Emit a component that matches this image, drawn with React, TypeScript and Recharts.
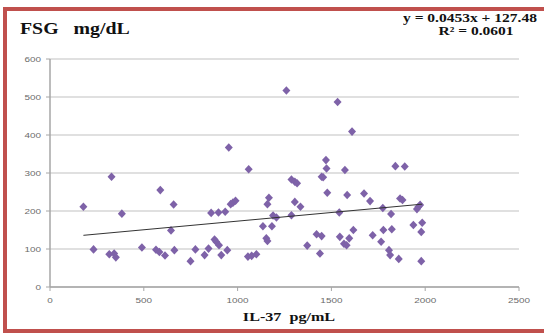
import { ScatterChart, Scatter, XAxis, YAxis, CartesianGrid } from 'recharts'

// IL-37 (pg/mL) vs FSG (mg/dL)
const il37 = [
  178, 232, 316, 342, 351, 328, 383, 490, 565, 583, 613, 588, 645, 659, 663,
  749, 775, 824, 845, 859, 877, 886, 901, 898, 913, 934, 945, 953, 963, 975,
  989, 1055, 1075, 1100, 1059, 1135, 1183, 1153, 1159, 1159, 1167, 1189, 1207, 1260,
  1287, 1305, 1317, 1287, 1305, 1335, 1371, 1421, 1448, 1439, 1448, 1456, 1471, 1474,
  1478, 1533, 1542, 1545, 1567, 1581, 1572, 1584, 1595, 1610, 1617, 1674, 1706, 1720,
  1765, 1777, 1774, 1807, 1813, 1818, 1822, 1841, 1859, 1866, 1879, 1891, 1937, 1956,
  1964, 1973, 1979, 1984, 1979,
]
const fsg = [
  211, 99, 86, 88, 78, 290, 193, 104, 98, 92, 83, 255, 149, 217, 97,
  68, 99, 84, 101, 195, 125, 119, 110, 196, 84, 198, 97, 367, 218, 222,
  227, 80, 82, 86, 310, 160, 160, 128, 121, 218, 235, 188, 183, 517,
  283, 277, 273, 189, 224, 211, 109, 139, 134, 88, 290, 289, 334, 312,
  248, 487, 196, 132, 114, 110, 308, 242, 128, 409, 150, 246, 226, 136,
  119, 150, 208, 97, 84, 192, 152, 318, 74, 233, 229, 317, 163, 205,
  211, 216, 145, 169, 68,
]

// linear trendline ends (y = 0.0453x + 127.48)
const trendX = [178, 1984]
const trendY = [136, 218]

const xTicks = [0, 500, 1000, 1500, 2000, 2500]
const yTicks = [0, 100, 200, 300, 400, 500, 600]

const PURPLE = '#7e62a8'
const SERIF = '"Liberation Serif", "Times New Roman", serif'
const STRETCH = 1.24

const points = il37.map((x, i) => ({ x, y: fsg[i] }))
const trend = trendX.map((x, i) => ({ x, y: trendY[i] }))

const Diamond = (p: any) => {
  const { cx, cy } = p
  if (cx == null || cy == null) return <g />
  const r = 4
  return <path d={`M${cx},${cy - r - 0.3}L${cx + r},${cy}L${cx},${cy + r + 0.3}L${cx - r},${cy}Z`} fill={PURPLE} />
}

const XTick = (p: any) => (
  <text transform={`translate(${p.x},${p.y}) scale(${STRETCH},1)`} textAnchor="middle" dy="0.71em"
    fontSize={8} fill="#6b6b6b" fontFamily='"Liberation Sans", Arial, sans-serif'>
    {p.payload.value}
  </text>
)

const YTick = (p: any) => (
  <text transform={`translate(${p.x},${p.y}) scale(${STRETCH},1)`} textAnchor="end" dy="0.35em"
    fontSize={8} fill="#6b6b6b" fontFamily='"Liberation Sans", Arial, sans-serif'>
    {p.payload.value}
  </text>
)

const serifText = (extra: any) => ({
  position: 'absolute' as const,
  fontFamily: SERIF,
  fontWeight: 'bold',
  color: '#111',
  whiteSpace: 'pre' as const,
  lineHeight: 1,
  ...extra,
})

export default function App() {
  return (
    <div style={{ position: 'absolute', left: 0, top: 0, width: 544, height: 333, background: '#fff' }}>
      <div style={{
        position: 'absolute', left: 3, top: 7, width: 541, height: 326, boxSizing: 'border-box',
        borderTop: '4px solid #c0504d', borderLeft: '4px solid #c0504d', borderBottom: '4px solid #c0504d',
      }} />
      <ScatterChart width={544} height={333} margin={{ top: 59, right: 25, bottom: 26, left: 20 }}
        style={{ position: 'absolute', left: 0, top: 0 }}>
        <CartesianGrid vertical={false} stroke="#d6d6d6" strokeWidth={1.6} />
        <XAxis type="number" dataKey="x" domain={[0, 2500]} ticks={xTicks} height={20}
          axisLine={{ stroke: '#a6a6a6', strokeWidth: 1.5 }} tickLine={{ stroke: '#a6a6a6' }}
          tickSize={4} tickMargin={6} tick={(p: any) => <XTick {...p} />} />
        <YAxis type="number" dataKey="y" domain={[0, 600]} ticks={yTicks} width={30}
          axisLine={{ stroke: '#a6a6a6', strokeWidth: 1.5 }} tickLine={{ stroke: '#a6a6a6' }}
          tickSize={4} tickMargin={5} tick={(p: any) => <YTick {...p} />} />
        <Scatter data={points} shape={Diamond} isAnimationActive={false} />
        <Scatter data={trend} line={{ stroke: '#333', strokeWidth: 1 }} shape={() => <g />}
          isAnimationActive={false} />
      </ScatterChart>

      <div style={serifText({ left: 20, top: 21, fontSize: 16, transform: `scaleX(${STRETCH})`, transformOrigin: 'left center' })}>
        {'FSG   mg/dL'}
      </div>
      <div style={serifText({ left: 370, top: 12, width: 200, textAlign: 'center', fontSize: 12.5, transform: `scaleX(${STRETCH})`, transformOrigin: '100px center' })}>
        {'y = 0.0453x + 127.48'}
      </div>
      <div style={serifText({ left: 376, top: 25, width: 200, textAlign: 'center', fontSize: 12.5, transform: `scaleX(${STRETCH})`, transformOrigin: '100px center' })}>
        {'R² = 0.0601'}
      </div>
      <div style={serifText({ left: 189, top: 310, width: 200, textAlign: 'center', fontSize: 13, transform: `scaleX(${STRETCH})`, transformOrigin: '100px center' })}>
        {'IL-37  pg/mL'}
      </div>
    </div>
  )
}
